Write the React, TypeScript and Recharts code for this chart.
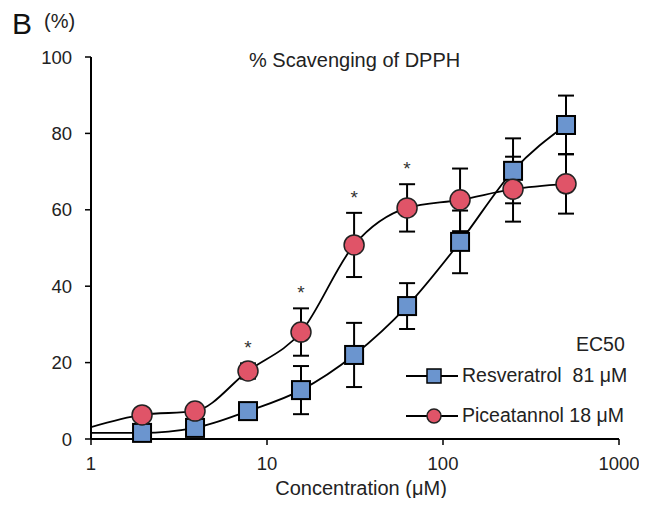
import { ComposedChart, Line, XAxis, YAxis, ErrorBar, LabelList } from "recharts";

const concentrations = [1.95, 3.9, 7.8, 15.6, 31.25, 62.5, 125, 250, 500];

const resveratrolMean = [1.6, 2.9, 7.3, 12.8, 22, 34.8, 51.6, 70.2, 82.2];
const resveratrolErr = [0.8, 1.2, 1.5, 6.3, 8.4, 6, 8.2, 8.5, 7.7];

const piceatannolMean = [6.3, 7.3, 17.8, 28, 50.8, 60.5, 62.6, 65.4, 66.8];
const piceatannolErr = [1, 1.5, 2, 6.2, 8.4, 6.2, 8.2, 8.5, 7.8];
const piceatannolSig = [false, false, true, true, true, true, false, false, false];

// fitted curves start at x = 1
const curveStart = { resveratrol: 1.6, piceatannol: 3.1 };

const xTicks = [1, 10, 100, 1000];
const yTicks = [0, 20, 40, 60, 80, 100];

const FONT = "'Liberation Sans', Arial, sans-serif";
const BLUE = "#6b95cf";
const RED = "#e05468";

const resData = concentrations.map((c, i) => ({
  x: c,
  y: resveratrolMean[i],
  err: resveratrolErr[i],
}));
const picData = concentrations.map((c, i) => ({
  x: c,
  y: piceatannolMean[i],
  err: piceatannolErr[i],
  top: piceatannolSig[i] ? piceatannolMean[i] + piceatannolErr[i] : null,
}));
const resCurve = [{ x: 1, y: curveStart.resveratrol }, ...resData];
const picCurve = [{ x: 1, y: curveStart.piceatannol }, ...picData];

const SquareDot = (props: any) => {
  const { cx, cy } = props;
  if (cx == null || cy == null) return null;
  return <rect x={cx - 9} y={cy - 9} width={18} height={18} fill={BLUE} stroke="#000" strokeWidth={2} />;
};

const CircleDot = (props: any) => {
  const { cx, cy } = props;
  if (cx == null || cy == null) return null;
  return <circle cx={cx} cy={cy} r={10} fill={RED} stroke="#222" strokeWidth={1.5} />;
};

const Star = (props: any) => {
  const { x, y, value } = props;
  if (value == null) return null;
  return (
    <text x={x} y={y - 9} textAnchor="middle" fontSize={19} fontFamily={FONT} fill="#333">
      *
    </text>
  );
};

const App = () => {
  return (
    <div style={{ position: "relative", width: 647, height: 506, margin: -8, background: "#fff", fontFamily: FONT }}>
      <ComposedChart
        width={647}
        height={506}
        margin={{ top: 57, right: 28, bottom: 7, left: 41 }}
      >
        <XAxis
          type="number"
          dataKey="x"
          scale="log"
          domain={[1, 1000]}
          ticks={xTicks}
          allowDataOverflow
          height={60}
          tickSize={6}
          tickMargin={12}
          axisLine={{ stroke: "#000", strokeWidth: 2 }}
          tickLine={{ stroke: "#000", strokeWidth: 1.5 }}
          tick={{ fill: "#222", fontSize: 18.5, fontFamily: FONT }}
          label={{
            value: "Concentration (μM)",
            position: "insideBottom",
            offset: 4,
            dx: 6,
            fill: "#222",
            fontSize: 20,
            fontFamily: FONT,
          }}
        />
        <YAxis
          type="number"
          domain={[0, 100]}
          ticks={yTicks}
          width={50}
          tickSize={6}
          tickMargin={13}
          axisLine={{ stroke: "#000", strokeWidth: 2 }}
          tickLine={{ stroke: "#000", strokeWidth: 1.5 }}
          tick={{ fill: "#222", fontSize: 18.5, fontFamily: FONT }}
        />
        <Line data={resCurve} dataKey="y" type="monotone" stroke="#000" strokeWidth={1.8} dot={false} isAnimationActive={false} />
        <Line data={picCurve} dataKey="y" type="monotone" stroke="#000" strokeWidth={1.8} dot={false} isAnimationActive={false} />
        <Line data={resData} dataKey="y" stroke="none" dot={<SquareDot />} activeDot={false} isAnimationActive={false}>
          <ErrorBar dataKey="err" direction="y" width={8} stroke="#000" strokeWidth={2} isAnimationActive={false} />
        </Line>
        <Line data={picData} dataKey="y" stroke="none" dot={<CircleDot />} activeDot={false} isAnimationActive={false}>
          <ErrorBar dataKey="err" direction="y" width={8} stroke="#000" strokeWidth={2} isAnimationActive={false} />
        </Line>
        <Line data={picData} dataKey="top" stroke="none" dot={false} activeDot={false} isAnimationActive={false}>
          <LabelList dataKey="top" content={<Star />} />
        </Line>
      </ComposedChart>

      <div style={{ position: "absolute", left: 12, top: 7, fontSize: 30, color: "#111" }}>B</div>
      <div style={{ position: "absolute", left: 44, top: 10, fontSize: 20, color: "#222" }}>(%)</div>
      <div style={{ position: "absolute", left: 249, top: 49, fontSize: 20, color: "#222" }}>% Scavenging of DPPH</div>

      <div style={{ position: "absolute", left: 576, top: 333, fontSize: 19.5, color: "#222" }}>EC50</div>
      <div style={{ position: "absolute", left: 406, top: 364, display: "flex", alignItems: "center", fontSize: 19.5, color: "#222" }}>
        <svg width={54} height={20}>
          <line x1={0} y1={10} x2={52} y2={10} stroke="#000" strokeWidth={1.8} />
          <rect x={21} y={3} width={14} height={14} fill={BLUE} stroke="#000" strokeWidth={1.5} />
        </svg>
        <span style={{ marginLeft: 2 }}>Resveratrol&nbsp; 81 μM</span>
      </div>
      <div style={{ position: "absolute", left: 406, top: 404, display: "flex", alignItems: "center", fontSize: 19.5, color: "#222" }}>
        <svg width={54} height={20}>
          <line x1={0} y1={10} x2={52} y2={10} stroke="#000" strokeWidth={1.8} />
          <circle cx={28} cy={10} r={7} fill={RED} stroke="#222" strokeWidth={1.5} />
        </svg>
        <span style={{ marginLeft: 2 }}>Piceatannol 18 μM</span>
      </div>
    </div>
  );
};

export default App;
